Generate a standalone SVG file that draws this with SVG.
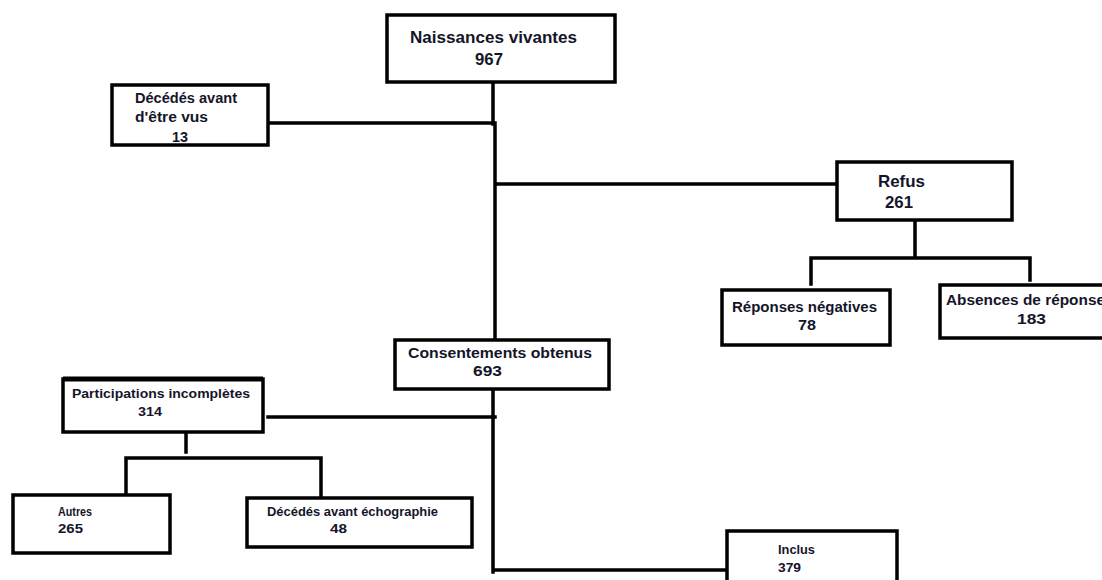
<svg xmlns="http://www.w3.org/2000/svg" width="1102" height="580" viewBox="0 0 1102 580">
<style>
.box{fill:#fff;stroke:#000;stroke-width:3.5}
.ln{stroke:#000;stroke-width:3.5;fill:none;stroke-linecap:square}
text{font-family:"Liberation Sans",Arial,sans-serif;font-weight:bold;fill:#15152a;font-size:14px}
.big{font-size:16.5px}
.sm{font-size:13px}
</style>
<rect width="1102" height="580" fill="#fff"/>
<g id="connectors">
<path class="ln" d="M493 82V124M495 124V340M269 123H495M497 184H837"/>
<path class="ln" d="M915 220V258M811 258H1030M811 258V284M1030 258V280"/>
<path class="ln" d="M493 390V572M268 417H495M493 570H735"/>
<path class="ln" d="M186 432V452M126 458H321M126 458V497M321 458V501"/>
</g>
<g id="naissances">
<rect class="box" x="387" y="15" width="228" height="67"/>
<text class="big" x="410" y="43" textLength="167" lengthAdjust="spacingAndGlyphs">Naissances vivantes</text>
<text class="big" x="475" y="65" textLength="28" lengthAdjust="spacingAndGlyphs">967</text>
</g>
<g id="decedes-vus">
<rect class="box" x="112" y="85" width="156" height="60"/>
<text x="135" y="103" textLength="102" lengthAdjust="spacingAndGlyphs">Décédés avant</text>
<text x="135" y="122" textLength="73" lengthAdjust="spacingAndGlyphs">d'être vus</text>
<text x="172" y="142" textLength="16" lengthAdjust="spacingAndGlyphs">13</text>
</g>
<g id="refus">
<rect class="box" x="837" y="162" width="175" height="58"/>
<text class="big" x="878" y="187" textLength="47" lengthAdjust="spacingAndGlyphs">Refus</text>
<text class="big" x="885" y="208" textLength="28" lengthAdjust="spacingAndGlyphs">261</text>
</g>
<g id="reponses-negatives">
<rect class="box" x="722" y="290" width="168" height="55"/>
<text x="732" y="312" textLength="145" lengthAdjust="spacingAndGlyphs">Réponses négatives</text>
<text x="798" y="330" textLength="18" lengthAdjust="spacingAndGlyphs">78</text>
</g>
<g id="absences-reponse">
<rect class="box" x="940" y="285" width="170" height="53"/>
<text x="946" y="305" textLength="159" lengthAdjust="spacingAndGlyphs">Absences de réponse</text>
<text x="1017" y="324" textLength="29" lengthAdjust="spacingAndGlyphs">183</text>
</g>
<g id="consentements">
<rect class="box" x="395" y="340" width="214" height="49"/>
<text x="408" y="358" textLength="184" lengthAdjust="spacingAndGlyphs">Consentements obtenus</text>
<text x="473" y="376" textLength="29" lengthAdjust="spacingAndGlyphs">693</text>
</g>
<g id="participations">
<rect class="box" x="63" y="379" width="200" height="53"/>
<line x1="63" y1="379" x2="263" y2="379" stroke="#000" stroke-width="5"/>
<text class="sm" x="72" y="398" textLength="178" lengthAdjust="spacingAndGlyphs">Participations incomplètes</text>
<text class="sm" x="138" y="416" textLength="24" lengthAdjust="spacingAndGlyphs">314</text>
</g>
<g id="autres">
<rect class="box" x="13" y="495" width="157" height="58"/>
<text class="sm" x="58" y="516" textLength="34" lengthAdjust="spacingAndGlyphs">Autres</text>
<text class="sm" x="58" y="533" textLength="25" lengthAdjust="spacingAndGlyphs">265</text>
</g>
<g id="decedes-echo">
<rect class="box" x="247" y="498" width="225" height="49"/>
<text class="sm" x="267" y="516" textLength="171" lengthAdjust="spacingAndGlyphs">Décédés avant échographie</text>
<text class="sm" x="330" y="533" textLength="17" lengthAdjust="spacingAndGlyphs">48</text>
</g>
<g id="inclus">
<rect class="box" x="727" y="531" width="170" height="60"/>
<text class="sm" x="778" y="554" textLength="37" lengthAdjust="spacingAndGlyphs">Inclus</text>
<text class="sm" x="778" y="572" textLength="23" lengthAdjust="spacingAndGlyphs">379</text>
</g>
</svg>
